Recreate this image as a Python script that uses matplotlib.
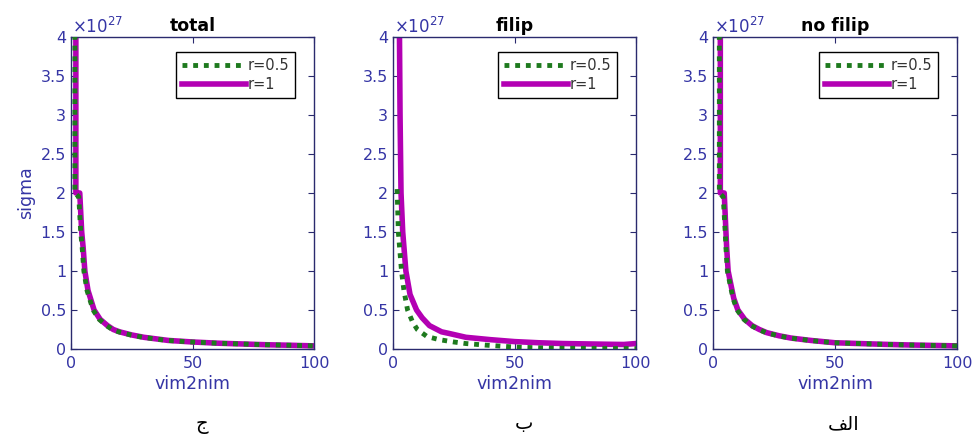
import matplotlib
matplotlib.use("Agg")
import matplotlib.pyplot as plt

plt.rcParams['font.family'] = ['DejaVu Sans']
plt.rcParams['mathtext.fontset'] = 'dejavusans'

# sigma values are in units of 1e27
# --- total ---
x_total_r1 = [2.0, 2.0, 3.6, 4.4, 5.0, 5.7, 7, 8, 9.5, 12, 15, 17.4, 20, 25, 30, 40, 50, 60, 70, 80, 90, 100]
y_total_r1 = [4.3, 2.0, 2.0, 1.5, 1.3, 1.0, 0.75, 0.65, 0.5, 0.38, 0.3, 0.25, 0.22, 0.18, 0.15, 0.11, 0.09, 0.075, 0.065, 0.055, 0.048, 0.04]
x_total_r05 = [1.6, 1.6, 3.2, 4.0, 4.6, 5.3, 6.6, 7.6, 9.1, 11.6, 14.6, 17, 19.6, 24.6, 29.6, 39.6, 49.6, 59.6, 69.6, 79.6, 89.6, 100]
y_total_r05 = [4.3, 2.0, 1.95, 1.5, 1.3, 1.0, 0.75, 0.65, 0.5, 0.38, 0.3, 0.25, 0.22, 0.18, 0.15, 0.11, 0.09, 0.075, 0.065, 0.055, 0.048, 0.04]

# --- filip ---
x_filip_r1 = [2.6, 2.9, 3.3, 4.0, 5.3, 7, 9.7, 12, 15, 20, 23, 30, 40, 50, 60, 70, 80, 90, 95, 100]
y_filip_r1 = [4.3, 3.0, 2.0, 1.5, 1.0, 0.7, 0.5, 0.4, 0.3, 0.22, 0.2, 0.15, 0.12, 0.095, 0.08, 0.07, 0.065, 0.06, 0.058, 0.07]
x_filip_r05 = [1.7, 2.2, 3.5, 4.5, 6, 8, 10, 14, 19, 25, 30, 38, 50, 60, 70, 80, 90, 100]
y_filip_r05 = [2.05, 1.5, 1.0, 0.75, 0.5, 0.35, 0.25, 0.16, 0.12, 0.09, 0.07, 0.05, 0.025, 0.015, 0.01, 0.008, 0.006, 0.005]

# --- no filip ---
x_nofilip_r1 = [3.0, 3.0, 4.6, 5.3, 5.6, 6.2, 7.5, 8.5, 10.2, 13, 16, 19, 22, 27, 32, 40, 50, 60, 70, 80, 90, 100]
y_nofilip_r1 = [4.3, 2.0, 2.0, 1.5, 1.3, 1.0, 0.8, 0.65, 0.5, 0.38, 0.3, 0.25, 0.21, 0.17, 0.14, 0.11, 0.08, 0.07, 0.06, 0.052, 0.046, 0.04]
x_nofilip_r05 = [2.6, 2.6, 4.2, 5.0, 5.3, 5.9, 7.2, 8.2, 9.9, 12.7, 15.7, 18.7, 21.7, 26.7, 31.7, 39.7, 49.7, 59.7, 69.7, 79.7, 89.7, 100]
y_nofilip_r05 = [4.3, 2.0, 1.95, 1.5, 1.3, 1.0, 0.8, 0.65, 0.5, 0.38, 0.3, 0.25, 0.21, 0.17, 0.14, 0.11, 0.08, 0.07, 0.06, 0.052, 0.046, 0.04]

titles = ['total', 'filip', 'no filip']
captions = ['\u062c', '\u0628', '\ufed2\ufedf\ufe8d']  # ج , ب , الف (shaped)
legend_labels = ['r=0.5', 'r=1']
yticks = [0, 0.5, 1, 1.5, 2, 2.5, 3, 3.5, 4]
ytick_labels = ['0', '0.5', '1', '1.5', '2', '2.5', '3', '3.5', '4']
xticks = [0, 50, 100]

panels = [
    (x_total_r05, y_total_r05, x_total_r1, y_total_r1),
    (x_filip_r05, y_filip_r05, x_filip_r1, y_filip_r1),
    (x_nofilip_r05, y_nofilip_r05, x_nofilip_r1, y_nofilip_r1),
]

green = '#1e7a1e'
magenta = '#b300b3'
axcol = '#2a2a6e'
txtcol = '#3535a5'

fig = plt.figure(figsize=(9.73, 4.41), dpi=100)
lefts = [71, 393, 713]
widths = [243, 243, 244]

for i in range(3):
    ax = fig.add_axes([lefts[i] / 973, 92 / 441, widths[i] / 973, 312 / 441])
    xg, yg, xm, ym = panels[i]
    ax.plot(xg, yg, color=green, lw=3.5, linestyle=(0, (1, 1.2)), label=legend_labels[0], zorder=3)
    ax.plot(xm, ym, color=magenta, lw=4, label=legend_labels[1], zorder=2)
    ax.set_xlim(0, 100)
    ax.set_ylim(0, 4)
    ax.set_xticks(xticks)
    ax.set_yticks(yticks)
    ax.set_yticklabels(ytick_labels)
    ax.tick_params(direction='in', top=True, right=True, length=4, width=0.8,
                   colors=axcol, labelcolor=txtcol, labelsize=11.5)
    ax.tick_params(axis='x', pad=5)
    for s in ax.spines.values():
        s.set_color(axcol)
        s.set_linewidth(1.0)
    ax.set_xlabel('vim2nim', color=txtcol, fontsize=12.5, labelpad=3)
    if i == 0:
        ax.set_ylabel('sigma', color=txtcol, fontsize=12.5, labelpad=4)
    ax.set_title(titles[i], fontweight='bold', fontsize=12.5, pad=4)
    ax.text(0.005, 1.0, r'$\times10^{27}$', transform=ax.transAxes, color=txtcol,
            fontsize=12, ha='left', va='bottom')
    leg = ax.legend(loc='upper right', bbox_to_anchor=(0.922, 0.952), borderaxespad=0,
                    fancybox=False, edgecolor='black', fontsize=10.5, handlelength=4.4,
                    handletextpad=0.1, borderpad=0.4, labelspacing=0.3, framealpha=1)
    leg.get_frame().set_linewidth(1.0)
    for t in leg.get_texts():
        t.set_color('#333333')
    cx = (lefts[i] + widths[i] / 2 + 9) / 973
    fig.text(cx, 1 - 424 / 441, captions[i], fontsize=14,
             ha='center', va='center', color='black')

fig.savefig('out.png', dpi=100)
